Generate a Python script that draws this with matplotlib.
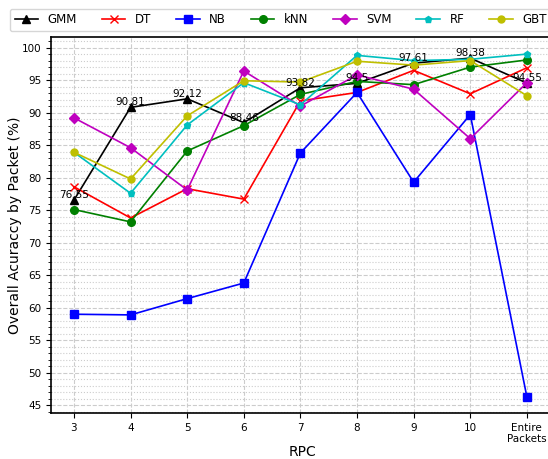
import matplotlib
matplotlib.use('Agg')
import matplotlib.pyplot as plt
from matplotlib.ticker import MultipleLocator

# Packet counts per connection (RPC) and accuracy of each classifier
rpc_labels = ['3', '4', '5', '6', '7', '8', '9', '10', 'Entire\nPackets']

gmm = [76.55, 90.81, 92.12, 88.46, 93.82, 94.5, 97.61, 98.38, 94.55]
dt = [78.6, 73.8, 78.3, 76.7, 91.8, 93.1, 96.5, 92.9, 96.9]
nb = [59.0, 58.9, 61.4, 63.8, 83.8, 93.1, 79.3, 89.7, 46.3]
knn = [75.1, 73.2, 84.1, 88.0, 92.8, 94.8, 94.3, 97.0, 98.1]
svm = [89.2, 84.6, 78.1, 96.4, 91.0, 95.8, 93.6, 86.0, 94.6]
rf = [83.9, 77.6, 88.1, 94.6, 91.2, 98.8, 98.0, 98.2, 99.0]
gbt = [83.9, 79.8, 89.5, 94.9, 94.7, 97.9, 97.3, 98.0, 92.6]

x = list(range(len(rpc_labels)))

fig, ax = plt.subplots(figsize=(5.48, 4.59), dpi=100)
fig.subplots_adjust(left=0.093, right=1.01, top=0.919, bottom=0.10)

ax.plot(x, gmm, 'k-^', lw=1.2, ms=5.5, label='GMM')
ax.plot(x, dt, 'r-x', lw=1.2, ms=5.5, label='DT')
ax.plot(x, nb, 'b-s', lw=1.2, ms=5.5, label='NB')
ax.plot(x, knn, 'g-o', lw=1.2, ms=5.5, label='kNN')
ax.plot(x, svm, 'm-D', lw=1.2, ms=5.5, label='SVM')
ax.plot(x, rf, 'c-p', lw=1.2, ms=5, label='RF')
ax.plot(x, gbt, 'y-o', lw=1.2, ms=5, label='GBT')

# GMM values written above its points
for xi, v in zip(x, gmm):
    ax.text(xi, v, f'{v:g}', ha='center', va='bottom', fontsize=7.5)

ax.set_xticks(x)
ax.set_xticklabels(rpc_labels, fontsize=7.5)
ax.set_xlim(-0.406, 8.47)
ax.set_ylim(43.8, 101.6)
ax.yaxis.set_major_locator(MultipleLocator(5))
ax.yaxis.set_minor_locator(MultipleLocator(1))
ax.tick_params(axis='y', labelsize=7.5)

ax.grid(which='major', linestyle='--', color='#cccccc', lw=0.8)
ax.grid(which='minor', axis='y', linestyle=':', color='#cccccc', lw=0.8)
ax.set_axisbelow(True)

for s in ax.spines.values():
    s.set_linewidth(1.2)

ax.set_xlabel('RPC', fontsize=10)
ax.set_ylabel('Overall Acuraccy by Packet (%)', fontsize=10)
ax.xaxis.set_label_coords(0.5, -0.085)
ax.yaxis.set_label_coords(-0.058, 0.5)

ax.legend(loc='lower left', bbox_to_anchor=(0.018, 0.932),
          bbox_transform=fig.transFigure, ncol=7, fontsize=8.5,
          handlelength=2.0, handletextpad=0.8, columnspacing=2.1,
          borderaxespad=0.0)

plt.savefig('out.png', dpi=100)
